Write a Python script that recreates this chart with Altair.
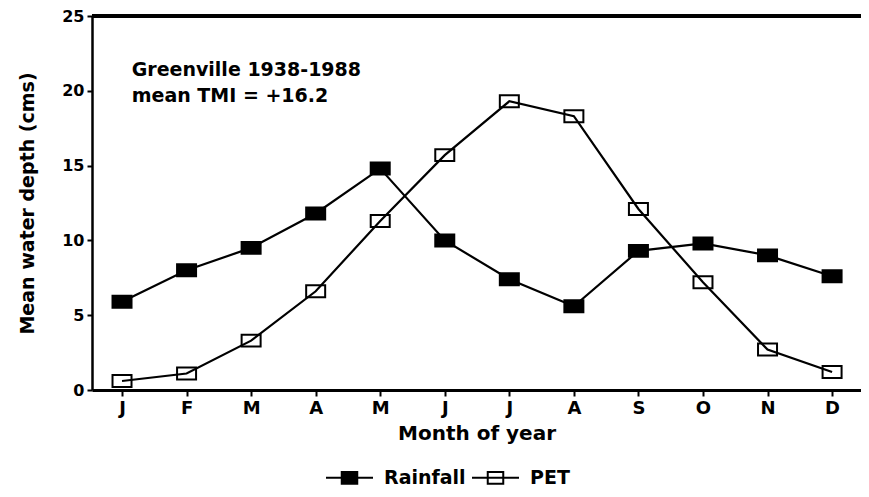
import altair as alt
import pandas as pd

months = ["J", "F", "M", "A", "M", "J", "J", "A", "S", "O", "N", "D"]
rainfall = [5.9, 8.0, 9.5, 11.8, 14.8, 10.0, 7.4, 5.6, 9.3, 9.8, 9.0, 7.6]
pet = [0.6, 1.1, 3.3, 6.6, 11.3, 15.7, 19.3, 18.3, 12.1, 7.2, 2.7, 1.2]
series_names = ["Rainfall", "PET"]
note_lines = ["Greenville 1938-1988", "mean TMI = +16.2"]
note_x = [0.15, 0.15]
note_y = [21.0, 19.25]

rows = []
for i in range(len(months)):
    rows.append({"m": i, "series": "Rainfall", "v": rainfall[i]})
for i in range(len(months)):
    rows.append({"m": i, "series": "PET", "v": pet[i]})
df = pd.DataFrame(rows)
notes = pd.DataFrame({"x": note_x, "y": note_y, "t": note_lines})

FONT = "DejaVu Sans"
label_expr = "[" + ",".join("'%s'" % m for m in months) + "][datum.value]"

x = alt.X("m:Q", scale=alt.Scale(domain=[-0.465, 11.448], nice=False, zero=False),
          axis=alt.Axis(values=list(range(12)), labelExpr=label_expr, title="Month of year",
                        grid=False, domainWidth=3, tickWidth=2, tickSize=6, labelPadding=3,
                        labelFontSize=18, titleFontSize=20, titlePadding=6,
                        labelFont=FONT, titleFont=FONT, labelFontWeight="bold",
                        titleFontWeight="bold", labelColor="black", titleColor="black",
                        domainColor="black", tickColor="black"))
y = alt.Y("v:Q", scale=alt.Scale(domain=[0, 25], nice=False),
          axis=alt.Axis(values=[0, 5, 10, 15, 20, 25], title="Mean water depth (cms)",
                        grid=False, domainWidth=2.5, tickWidth=2, tickSize=5, labelPadding=3,
                        labelFontSize=16, titleFontSize=19, titlePadding=24,
                        labelFont=FONT, titleFont=FONT, labelFontWeight="bold",
                        titleFontWeight="bold", labelColor="black", titleColor="black",
                        domainColor="black", tickColor="black"))

marker_path = "M-1,-0.63H1V0.63H-1Z"
legend_path = "M-1,0H1M-0.33,-0.25H0.33V0.25H-0.33Z"

points = alt.Chart(df).mark_point(shape=marker_path, size=361, stroke="black",
                                  strokeWidth=2, opacity=1, filled=False).encode(
    x=x, y=y,
    fill=alt.Fill("series:N", scale=alt.Scale(domain=series_names, range=["black", "white"]),
                  legend=alt.Legend(title=None, orient="none", legendX=233, legendY=437,
                                    direction="horizontal", symbolType=legend_path,
                                    symbolSize=2209, symbolStrokeColor="black",
                                    symbolStrokeWidth=2, labelFont=FONT, labelFontSize=19,
                                    labelFontWeight="bold", labelColor="black",
                                    labelOffset=10, columnPadding=2)),
)

lines = alt.Chart(df).mark_line(color="black", strokeWidth=2.2).encode(
    x=x, y=y, detail="series:N"
)

top = alt.Chart(df).mark_rule(color="black", strokeWidth=2.5).encode(y=alt.datum(25))

text = alt.Chart(notes).mark_text(align="left", baseline="alphabetic", font=FONT,
                                  fontSize=19, fontWeight="bold", color="black").encode(
    x="x:Q", y="y:Q", text="t:N"
)

chart = alt.layer(top, points, lines, text).properties(
    width=769, height=374,
    autosize=alt.AutoSizeParams(type="none"),
    padding={"left": 84, "top": 8, "right": 0, "bottom": 99},
    background="white",
).configure_view(stroke=None)

chart.save("out.html", embed_options={"renderer": "svg", "actions": False})
